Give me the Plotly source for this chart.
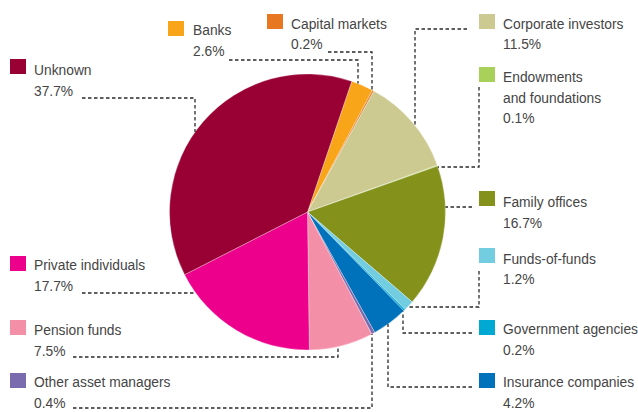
import math
import plotly.graph_objects as go

# ---------------- data ----------------
categories = ["Banks", "Capital markets", "Corporate investors",
              "Endowments and foundations", "Family offices", "Funds-of-funds",
              "Government agencies", "Insurance companies", "Other asset managers",
              "Pension funds", "Private individuals", "Unknown"]
label_lines = [["Banks"], ["Capital markets"], ["Corporate investors"],
               ["Endowments", "and foundations"], ["Family offices"], ["Funds-of-funds"],
               ["Government agencies"], ["Insurance companies"], ["Other asset managers"],
               ["Pension funds"], ["Private individuals"], ["Unknown"]]
shares = [2.6, 0.2, 11.5, 0.1, 16.7, 1.2, 0.2, 4.2, 0.4, 7.5, 17.7, 37.7]
colors = ["#F9A51A", "#E87722", "#CCC991", "#A8D15A", "#84921B", "#72CDE0",
          "#00A9D4", "#0072BC", "#7A6BAF", "#F48FA8", "#EC008C", "#990033"]

# ---------------- layout helpers ----------------
W, H = 638, 412
CX, CY, R = 307.5, 212.0, 138.0
FONT = "Liberation Sans, Arial, sans-serif"
FS = 13.8
PITCH = 20.3
TXT = "#454545"


def px(x):
    return x / W


def py(y):
    return 1 - y / H


def circ_y(x, side):
    d = math.sqrt(max(R * R - (x - CX) ** 2, 0))
    return CY - d if side == "top" else CY + d


def circ_x(y, side):
    d = math.sqrt(max(R * R - (y - CY) ** 2, 0))
    return CX + d if side == "right" else CX - d


# label placement: square (x, y), text (x, cap top), leader points, end spec
placement = {
    "Unknown": ((10, 59), (33, 65), [(82, 98), (195, 98)], ("v", "top")),
    "Banks": ((168, 21), (192, 25), [(229, 60), (358, 60)], ("v", "top")),
    "Capital markets": ((267, 14), (290, 18.5), [(328, 52), (372, 52)], ("v", "top")),
    "Corporate investors": ((479, 14), (502, 18.5), [(467, 29), (415, 29)], ("v", "top")),
    "Endowments and foundations": ((479, 67), (502, 72), [(479, 87), (479, 167)], ("h", "right")),
    "Family offices": ((479, 191), (502, 197), [(472, 207)], ("h", "right")),
    "Funds-of-funds": ((479, 248), (502, 253.5), [(479, 271), (479, 307)], ("h", "right")),
    "Government agencies": ((479, 320), (502, 324), [(472, 333), (403, 333)], ("v", "bottom")),
    "Insurance companies": ((479, 373), (502, 377), [(472, 387), (388, 387)], ("v", "bottom")),
    "Other asset managers": ((10, 373), (33, 377), [(73, 408), (372, 408)], ("v", "bottom")),
    "Pension funds": ((10, 320), (33, 325), [(73, 357), (338, 357)], ("v", "bottom")),
    "Private individuals": ((10, 256), (33, 260), [(82, 293)], ("h", "left")),
}

fig = go.Figure(go.Pie(
    labels=categories,
    values=shares,
    marker=dict(colors=colors, line=dict(color="rgba(255,255,255,0.6)", width=0.5)),
    sort=False,
    direction="clockwise",
    rotation=18.7,
    textinfo="none",
    hoverinfo="none",
    domain=dict(x=[px(CX - R), px(CX + R)], y=[py(CY + R), py(CY - R)]),
    showlegend=False,
))

shapes = []
annotations = []
for cat, lines, val, col in zip(categories, label_lines, shares, colors):
    (sx, sy), (tx, ty), pts, (kind, side) = placement[cat]
    shapes.append(dict(type="rect", xref="paper", yref="paper",
                       x0=px(sx), x1=px(sx + 16), y0=py(sy + 15), y1=py(sy),
                       fillcolor=col, line=dict(width=0)))
    lx, ly = pts[-1]
    if kind == "v":
        end = (lx, circ_y(lx, side))
    else:
        end = (circ_x(ly, side), ly)
    allp = pts + [end]
    path = "M " + " L ".join(f"{px(x):.5f},{py(y):.5f}" for x, y in allp)
    shapes.append(dict(type="path", xref="paper", yref="paper", path=path,
                       line=dict(color="#2a2a2a", width=1.3, dash="3.5px,2.5px")))
    for i, t in enumerate(lines + [f"{val}%"]):
        cap_top = ty + i * PITCH
        annotations.append(dict(xref="paper", yref="paper", x=px(tx),
                                y=py(cap_top - 0.19 * FS),
                                xanchor="left", yanchor="top", showarrow=False,
                                align="left", borderpad=0, text=t,
                                font=dict(family=FONT, size=FS, color=TXT)))

fig.update_layout(
    width=W, height=H,
    margin=dict(l=0, r=0, t=0, b=0),
    paper_bgcolor="white", plot_bgcolor="white",
    shapes=shapes, annotations=annotations,
    hovermode=False,
)

fig.write_html("out.html",
               config={"displayModeBar": False, "staticPlot": True},
               post_script="document.body.style.margin='0px';"
                           "document.body.style.overflow='hidden';")
